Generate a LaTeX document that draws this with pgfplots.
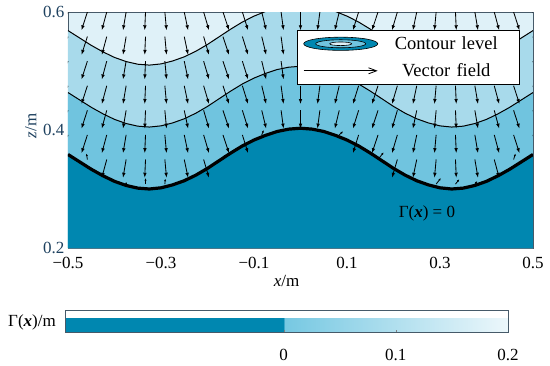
\documentclass[border=0pt]{standalone}
\usepackage{fontspec}
\setmainfont{Liberation Serif}
\usepackage{pgfplots}
\pgfplotsset{compat=1.18}
\usetikzlibrary{arrows.meta,calc}
\definecolor{cA}{RGB}{0,135,176}
\definecolor{cB}{RGB}{112,196,223}
\definecolor{cC}{RGB}{168,218,235}
\definecolor{cD}{RGB}{223,241,248}
\definecolor{ytk}{RGB}{30,65,95}
\definecolor{frm}{RGB}{70,90,105}
\newcommand{\fs}{\fontsize{17}{20}\selectfont}
\newcommand{\lfs}{\fontsize{18.5}{21}\selectfont}
\pgfplotsset{qv/.style={black, line width=0.85pt, -{Latex[length=5pt,width=3.6pt]}, quiver={u=#1, v=-0.031}, forget plot}}
\begin{document}
\begin{tikzpicture}
\useasboundingbox (0pt,0pt) rectangle (550pt,365pt);
\begin{axis}[
  at={(68pt,117pt)}, anchor=south west,
  width=465pt, height=236pt, scale only axis,
  xmin=-0.5, xmax=0.5, ymin=0.2, ymax=0.6,
  xtick={-0.5,-0.3,-0.1,0.1,0.3,0.5},
  xticklabels={−0.5,−0.3,−0.1,0.1,0.3,0.5},
  ytick={0.2,0.4,0.6}, yticklabels={0.2,0.4,0.6},
  major tick length=0pt,
  tick label style={font=\fs},
  xticklabel style={yshift=-6pt},
  yticklabel style={color=ytk},
  axis line style={frm, line width=0.5pt},
  axis background/.style={fill=cD},
  xlabel={\textit{x}/m}, ylabel={\textit{z}/m},
  xlabel style={font=\fs, at={(axis description cs:0.47,0)}, anchor=center, yshift=-33pt},
  ylabel style={font=\fs, color=ytk, at={(axis description cs:-0.08,0.517)}, anchor=center},
  colormap={gam}{rgb255(0pt)=(0,135,176) rgb255(195pt)=(0,135,176) rgb255(195.5pt)=(118,200,226) rgb255(395pt)=(236,247,251)},
  point meta min=-0.195, point meta max=0.2,
  colorbar horizontal,
  colorbar style={at={($(parent axis.south west)+(-3pt,-54pt)$)}, anchor=north west,
    width=443pt, height=22pt, scale only axis,
    xtick={0,0.1,0.2}, xticklabels={0,0.1,0.2},
    tick label style={font=\fs, black},
    xtick align=inside, major tick length=3pt, xtick pos=left, xticklabel pos=left,
    xticklabel style={yshift=-13pt},
    axis line style={frm, line width=0.6pt}},
  legend style={at={(0.4925,0.9237)}, anchor=north west, draw=black, line width=0.6pt,
    fill=white, inner xsep=6pt, inner ysep=0pt, font=\lfs, row sep=0pt, column sep=0pt,
    nodes={inner xsep=0pt, inner ysep=6.3pt, text width=135pt, align=center}},
]
% filled contour regions
\addplot[draw=none, fill=cC, forget plot] coordinates {(-0.5,0.5685) (-0.475,0.5560) (-0.45,0.5435) (-0.425,0.5325) (-0.4,0.5230) (-0.375,0.5160) (-0.35,0.5115) (-0.325,0.5100) (-0.3,0.5120) (-0.275,0.5170) (-0.25,0.5240) (-0.225,0.5335) (-0.2,0.5450) (-0.175,0.5580) (-0.15,0.5710) (-0.125,0.5830) (-0.1,0.5930) (-0.075,0.6010) (-0.05,0.6075) (-0.025,0.6115) (0,0.6130) (0.025,0.6115) (0.05,0.6075) (0.075,0.6010) (0.1,0.5930) (0.125,0.5830) (0.15,0.5710) (0.175,0.5580) (0.2,0.5450) (0.225,0.5335) (0.25,0.5240) (0.275,0.5170) (0.3,0.5120) (0.325,0.5100) (0.35,0.5115) (0.375,0.5160) (0.4,0.5230) (0.425,0.5325) (0.45,0.5435) (0.475,0.5560) (0.5,0.5685)} \closedcycle;
\addplot[draw=none, fill=cB, forget plot] coordinates {(-0.5,0.4635) (-0.475,0.4510) (-0.45,0.4385) (-0.425,0.4275) (-0.4,0.4180) (-0.375,0.4110) (-0.35,0.4065) (-0.325,0.4050) (-0.3,0.4070) (-0.275,0.4120) (-0.25,0.4190) (-0.225,0.4285) (-0.2,0.4400) (-0.175,0.4530) (-0.15,0.4660) (-0.125,0.4780) (-0.1,0.4880) (-0.075,0.4960) (-0.05,0.5025) (-0.025,0.5065) (0,0.5080) (0.025,0.5065) (0.05,0.5025) (0.075,0.4960) (0.1,0.4880) (0.125,0.4780) (0.15,0.4660) (0.175,0.4530) (0.2,0.4400) (0.225,0.4285) (0.25,0.4190) (0.275,0.4120) (0.3,0.4070) (0.325,0.4050) (0.35,0.4065) (0.375,0.4110) (0.4,0.4180) (0.425,0.4275) (0.45,0.4385) (0.475,0.4510) (0.5,0.4635)} \closedcycle;
\addplot[draw=none, fill=cA, forget plot] coordinates {(-0.5,0.3585) (-0.475,0.3460) (-0.45,0.3335) (-0.425,0.3225) (-0.4,0.3130) (-0.375,0.3060) (-0.35,0.3015) (-0.325,0.3000) (-0.3,0.3020) (-0.275,0.3070) (-0.25,0.3140) (-0.225,0.3235) (-0.2,0.3350) (-0.175,0.3480) (-0.15,0.3610) (-0.125,0.3730) (-0.1,0.3830) (-0.075,0.3910) (-0.05,0.3975) (-0.025,0.4015) (0,0.4030) (0.025,0.4015) (0.05,0.3975) (0.075,0.3910) (0.1,0.3830) (0.125,0.3730) (0.15,0.3610) (0.175,0.3480) (0.2,0.3350) (0.225,0.3235) (0.25,0.3140) (0.275,0.3070) (0.3,0.3020) (0.325,0.3000) (0.35,0.3015) (0.375,0.3060) (0.4,0.3130) (0.425,0.3225) (0.45,0.3335) (0.475,0.3460) (0.5,0.3585)} \closedcycle;
% contour lines
\addplot[black, line width=1pt, forget plot] coordinates {(-0.5,0.5685) (-0.475,0.5560) (-0.45,0.5435) (-0.425,0.5325) (-0.4,0.5230) (-0.375,0.5160) (-0.35,0.5115) (-0.325,0.5100) (-0.3,0.5120) (-0.275,0.5170) (-0.25,0.5240) (-0.225,0.5335) (-0.2,0.5450) (-0.175,0.5580) (-0.15,0.5710) (-0.125,0.5830) (-0.1,0.5930) (-0.075,0.6010) (-0.05,0.6075) (-0.025,0.6115) (0,0.6130) (0.025,0.6115) (0.05,0.6075) (0.075,0.6010) (0.1,0.5930) (0.125,0.5830) (0.15,0.5710) (0.175,0.5580) (0.2,0.5450) (0.225,0.5335) (0.25,0.5240) (0.275,0.5170) (0.3,0.5120) (0.325,0.5100) (0.35,0.5115) (0.375,0.5160) (0.4,0.5230) (0.425,0.5325) (0.45,0.5435) (0.475,0.5560) (0.5,0.5685)};
\addplot[black, line width=1pt, forget plot] coordinates {(-0.5,0.4635) (-0.475,0.4510) (-0.45,0.4385) (-0.425,0.4275) (-0.4,0.4180) (-0.375,0.4110) (-0.35,0.4065) (-0.325,0.4050) (-0.3,0.4070) (-0.275,0.4120) (-0.25,0.4190) (-0.225,0.4285) (-0.2,0.4400) (-0.175,0.4530) (-0.15,0.4660) (-0.125,0.4780) (-0.1,0.4880) (-0.075,0.4960) (-0.05,0.5025) (-0.025,0.5065) (0,0.5080) (0.025,0.5065) (0.05,0.5025) (0.075,0.4960) (0.1,0.4880) (0.125,0.4780) (0.15,0.4660) (0.175,0.4530) (0.2,0.4400) (0.225,0.4285) (0.25,0.4190) (0.275,0.4120) (0.3,0.4070) (0.325,0.4050) (0.35,0.4065) (0.375,0.4110) (0.4,0.4180) (0.425,0.4275) (0.45,0.4385) (0.475,0.4510) (0.5,0.4635)};
\addplot[black, line width=3.2pt, forget plot] coordinates {(-0.5,0.3585) (-0.475,0.3460) (-0.45,0.3335) (-0.425,0.3225) (-0.4,0.3130) (-0.375,0.3060) (-0.35,0.3015) (-0.325,0.3000) (-0.3,0.3020) (-0.275,0.3070) (-0.25,0.3140) (-0.225,0.3235) (-0.2,0.3350) (-0.175,0.3480) (-0.15,0.3610) (-0.125,0.3730) (-0.1,0.3830) (-0.075,0.3910) (-0.05,0.3975) (-0.025,0.4015) (0,0.4030) (0.025,0.4015) (0.05,0.3975) (0.075,0.3910) (0.1,0.3830) (0.125,0.3730) (0.15,0.3610) (0.175,0.3480) (0.2,0.3350) (0.225,0.3235) (0.25,0.3140) (0.275,0.3070) (0.3,0.3020) (0.325,0.3000) (0.35,0.3015) (0.375,0.3060) (0.4,0.3130) (0.425,0.3225) (0.45,0.3335) (0.475,0.3460) (0.5,0.3585)};
% vector field (one column per plot)
\addplot[qv=-0.0128] coordinates {(-0.5,0.6)(-0.5,0.5583)(-0.5,0.5167)(-0.5,0.475)(-0.5,0.4333)(-0.5,0.3917)};
\addplot[qv=-0.0127] coordinates {(-0.4583,0.6)(-0.4583,0.5583)(-0.4583,0.5167)(-0.4583,0.475)(-0.4583,0.4333)(-0.4583,0.3917)};
\addplot[qv=-0.0106] coordinates {(-0.4167,0.6)(-0.4167,0.5583)(-0.4167,0.5167)(-0.4167,0.475)(-0.4167,0.4333)(-0.4167,0.3917)(-0.4167,0.35)};
\addplot[qv=-0.0067] coordinates {(-0.375,0.6)(-0.375,0.5583)(-0.375,0.5167)(-0.375,0.475)(-0.375,0.4333)(-0.375,0.3917)(-0.375,0.35)};
\addplot[qv=-0.0017] coordinates {(-0.3333,0.6)(-0.3333,0.5583)(-0.3333,0.5167)(-0.3333,0.475)(-0.3333,0.4333)(-0.3333,0.3917)(-0.3333,0.35)};
\addplot[qv=0.0036] coordinates {(-0.2917,0.6)(-0.2917,0.5583)(-0.2917,0.5167)(-0.2917,0.475)(-0.2917,0.4333)(-0.2917,0.3917)(-0.2917,0.35)};
\addplot[qv=0.0083] coordinates {(-0.25,0.6)(-0.25,0.5583)(-0.25,0.5167)(-0.25,0.475)(-0.25,0.4333)(-0.25,0.3917)(-0.25,0.35)};
\addplot[qv=0.0116] coordinates {(-0.2083,0.6)(-0.2083,0.5583)(-0.2083,0.5167)(-0.2083,0.475)(-0.2083,0.4333)(-0.2083,0.3917)(-0.2083,0.35)};
\addplot[qv=0.0130] coordinates {(-0.1667,0.6)(-0.1667,0.5583)(-0.1667,0.5167)(-0.1667,0.475)(-0.1667,0.4333)(-0.1667,0.3917)};
\addplot[qv=0.0123] coordinates {(-0.125,0.6)(-0.125,0.5583)(-0.125,0.5167)(-0.125,0.475)(-0.125,0.4333)(-0.125,0.3917)};
\addplot[qv=0.0095] coordinates {(-0.0833,0.6)(-0.0833,0.5583)(-0.0833,0.5167)(-0.0833,0.475)(-0.0833,0.4333)};
\addplot[qv=0.0052] coordinates {(-0.0417,0.6)(-0.0417,0.5583)(-0.0417,0.5167)(-0.0417,0.475)(-0.0417,0.4333)};
\addplot[qv=0] coordinates {(0,0.6)(0,0.5583)(0,0.5167)(0,0.475)(0,0.4333)};
\addplot[qv=-0.0052] coordinates {(0.0417,0.6)(0.0417,0.5583)(0.0417,0.5167)(0.0417,0.475)(0.0417,0.4333)};
\addplot[qv=-0.0095] coordinates {(0.0833,0.6)(0.0833,0.5583)(0.0833,0.5167)(0.0833,0.475)(0.0833,0.4333)};
\addplot[qv=-0.0123] coordinates {(0.125,0.6)(0.125,0.5583)(0.125,0.5167)(0.125,0.475)(0.125,0.4333)(0.125,0.3917)};
\addplot[qv=-0.0130] coordinates {(0.1667,0.6)(0.1667,0.5583)(0.1667,0.5167)(0.1667,0.475)(0.1667,0.4333)(0.1667,0.3917)};
\addplot[qv=-0.0116] coordinates {(0.2083,0.6)(0.2083,0.5583)(0.2083,0.5167)(0.2083,0.475)(0.2083,0.4333)(0.2083,0.3917)(0.2083,0.35)};
\addplot[qv=-0.0083] coordinates {(0.25,0.6)(0.25,0.5583)(0.25,0.5167)(0.25,0.475)(0.25,0.4333)(0.25,0.3917)(0.25,0.35)};
\addplot[qv=-0.0036] coordinates {(0.2917,0.6)(0.2917,0.5583)(0.2917,0.5167)(0.2917,0.475)(0.2917,0.4333)(0.2917,0.3917)(0.2917,0.35)};
\addplot[qv=0.0017] coordinates {(0.3333,0.6)(0.3333,0.5583)(0.3333,0.5167)(0.3333,0.475)(0.3333,0.4333)(0.3333,0.3917)(0.3333,0.35)};
\addplot[qv=0.0067] coordinates {(0.375,0.6)(0.375,0.5583)(0.375,0.5167)(0.375,0.475)(0.375,0.4333)(0.375,0.3917)(0.375,0.35)};
\addplot[qv=0.0106] coordinates {(0.4167,0.6)(0.4167,0.5583)(0.4167,0.5167)(0.4167,0.475)(0.4167,0.4333)(0.4167,0.3917)(0.4167,0.35)};
\addplot[qv=0.0127] coordinates {(0.4583,0.6)(0.4583,0.5583)(0.4583,0.5167)(0.4583,0.475)(0.4583,0.4333)(0.4583,0.3917)};
\addplot[qv=0.0128] coordinates {(0.5,0.6)(0.5,0.5583)(0.5,0.5167)(0.5,0.475)(0.5,0.4333)(0.5,0.3917)};
% short vectors next to the interface
\addplot[black, line width=0.8pt, -{Latex[length=2.4pt,width=2.2pt]}, quiver={u=\thisrow{u}, v=\thisrow{v}}, forget plot] table {
x y u v
-0.4583 0.35 -0.002 0.010
-0.375 0.3083 0.000 0.004
-0.3333 0.3083 0.000 0.010
-0.2917 0.3083 0.001 0.009
-0.1667 0.35 0.004 0.008
-0.0833 0.3917 0.004 0.008
0.0833 0.3917 0.008 0.006
0.1667 0.35 0.012 0.012
0.2917 0.3083 0.010 0.010
0.3333 0.3083 0.008 0.008
0.375 0.3083 0.005 0.005
0.4583 0.35 0.004 0.010
};
\node[font=\fs] at (axis cs:0.272,0.259) {Γ(\textbf{\textit{x}}) = 0};
% legend
\addlegendimage{legend image code/.code={
  \draw[black,line width=0.6pt,fill=cA] (37pt,0pt) ellipse [x radius=37pt,y radius=6.6pt];
  \draw[black,line width=0.6pt,fill=cB] (37pt,0pt) ellipse [x radius=25pt,y radius=4pt];
  \draw[black,line width=0.6pt,fill=cD] (37pt,0pt) ellipse [x radius=11pt,y radius=1.8pt];
}}
\addlegendentry{Contour level}
\addlegendimage{legend image code/.code={
  \draw[black,line width=0.8pt,-{Straight Barb[length=8pt,width=6pt]}] (0pt,0pt) -- (74pt,0pt);
}}
\addlegendentry{Vector field}
\end{axis}
\node[font=\fs, anchor=center] at (32pt,43pt) {Γ(\textbf{\textit{x}})/m};
\end{tikzpicture}
\end{document}
